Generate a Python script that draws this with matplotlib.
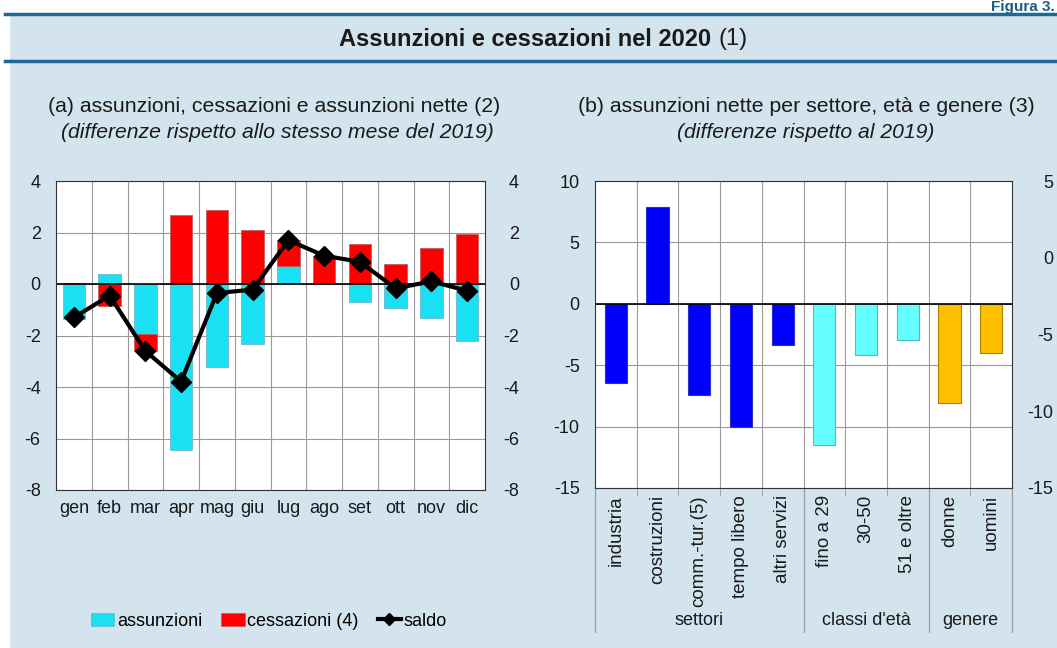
import matplotlib
matplotlib.use("Agg")
import matplotlib.pyplot as plt
import numpy as np
from matplotlib.patches import Rectangle
from matplotlib.lines import Line2D

plt.rcParams["font.family"] = ["Liberation Sans", "DejaVu Sans"]
plt.rcParams["axes.unicode_minus"] = False

# panel (a): monthly differences vs 2019
mesi = ["gen", "feb", "mar", "apr", "mag", "giu", "lug", "ago", "set", "ott", "nov", "dic"]
assunzioni = [-1.35, 0.39, -1.94, -6.43, -3.21, -2.32, 0.68, 0.05, -0.70, -0.93, -1.32, -2.21]
cessazioni = [0.05, -0.85, -0.67, 2.67, 2.86, 2.09, 1.04, 1.05, 1.56, 0.76, 1.39, 1.95]
saldo = [-1.30, -0.45, -2.60, -3.79, -0.35, -0.22, 1.70, 1.10, 0.86, -0.17, 0.10, -0.26]

# panel (b): net hires by sector, age, gender
categorie = ["industria", "costruzioni", "comm.-tur.(5)", "tempo libero", "altri servizi",
             "fino a 29", "30-50", "51 e oltre", "donne", "uomini"]
nette = [-6.48, 7.86, -7.40, -10.03, -3.33, -11.46, -4.20, -2.93, -8.05, -3.98]
gruppi = ["settori", "classi d'età", "genere"]
gruppi_n = [5, 3, 2]

BG = "#d3e4ee"
LINE = "#1f6894"
CYAN = "#1ae0f4"
RED = "#ff0000"
GRID = "#9a9a9a"
TXT = "#1a1a1a"
gruppi_col = ["#0000ff", "#66ffff", "#ffc000"]
gruppi_edge = ["#3030c0", "#40c0c8", "#b08000"]

W, H = 1057, 648
fig = plt.figure(figsize=(W / 100, H / 100), dpi=100)
fig.patch.set_facecolor(BG)


def fx(px):
    return px / W


def fy(py):
    return 1 - py / H


# white margins (top strip, thin left strip) and header lines
fig.add_artist(Rectangle((0, fy(14)), 1, 1, transform=fig.transFigure,
                         facecolor="white", edgecolor="none", zorder=-5))
fig.add_artist(Rectangle((0, 0), fx(10), 1, transform=fig.transFigure,
                         facecolor="white", edgecolor="none", zorder=-5))
for yy in (14, 61):
    fig.add_artist(Line2D([fx(5), 1], [fy(yy), fy(yy)], color=LINE, lw=2.5,
                          transform=fig.transFigure))
fig.text(fx(1055), fy(0), "Figura 3.", ha="right", va="top", fontsize=11,
         fontweight="bold", color="#1a5f80")
fig.text(fx(718), fy(39), "Assunzioni e cessazioni nel 2020 ", ha="right",
         va="center", fontsize=17, fontweight="bold", color=TXT)
fig.text(fx(718), fy(39), "(1)", ha="left", va="center", fontsize=17, color=TXT)

# subtitles
fig.text(fx(274), fy(106), "(a) assunzioni, cessazioni e assunzioni nette (2)",
         ha="center", va="center", fontsize=15.3, color=TXT)
fig.text(fx(277), fy(132), "(differenze rispetto allo stesso mese del 2019)",
         ha="center", va="center", fontsize=15.2, style="italic", color=TXT)
fig.text(fx(806), fy(106), "(b) assunzioni nette per settore, età e genere (3)",
         ha="center", va="center", fontsize=15.3, color=TXT)
fig.text(fx(806), fy(132), "(differenze rispetto al 2019)",
         ha="center", va="center", fontsize=15.2, style="italic", color=TXT)


def right_labels(axis, pad_pt):
    axis.tick_params(axis="y", length=0, labelsize=13, pad=pad_pt, colors=TXT)
    for t in axis.get_yticklabels():
        t.set_horizontalalignment("right")
    for s in axis.spines.values():
        s.set_visible(False)


# ---------------- panel (a)
ax = fig.add_axes([fx(56), fy(490), fx(429), (490 - 181) / H])
x = np.arange(len(mesi))
a = np.array(assunzioni)
c = np.array(cessazioni)
bottom_c = np.where(np.sign(a) == np.sign(c), a, 0)
ax.bar(x, a, width=0.63, color=CYAN, edgecolor="#70b8c8", linewidth=0.6, zorder=2)
ax.bar(x, c, width=0.63, bottom=bottom_c, color=RED, edgecolor="#c06060",
       linewidth=0.6, zorder=2)
ax.plot(x, saldo, color="black", lw=3, marker="D", markersize=10, zorder=3)
ax.axhline(0, color="black", lw=1.2, zorder=2.5)
ax.set_xlim(-0.5, len(mesi) - 0.5)
ax.set_ylim(-8, 4)
ax.set_yticks(np.arange(-8, 5, 2))
ax.set_xticks(x)
ax.set_xticklabels(mesi)
ax.set_xticks(np.arange(0.5, len(mesi) - 0.5), minor=True)
ax.grid(True, axis="x", which="minor", color=GRID, lw=0.8)
ax.grid(True, axis="y", which="major", color=GRID, lw=0.8)
ax.tick_params(which="both", length=0, labelsize=13, colors=TXT)
ax.tick_params(axis="y", pad=11)
ax.tick_params(axis="x", pad=7)
ax.set_axisbelow(True)
for s in ax.spines.values():
    s.set_color("#333333")
ax2 = ax.twinx()
ax2.set_ylim(-8, 4)
ax2.set_yticks(np.arange(-8, 5, 2))
right_labels(ax2, 24.5)

leg_h = [Rectangle((0, 0), 1, 1, facecolor=CYAN, edgecolor="#70b8c8", lw=0.6),
         Rectangle((0, 0), 1, 1, facecolor=RED, edgecolor="#c06060", lw=0.6),
         Line2D([], [], color="black", lw=3, marker="D", markersize=6)]
fig.legend(leg_h, ["assunzioni", "cessazioni (4)", "saldo"], loc="center",
           bbox_to_anchor=(fx(269), fy(621)), ncol=3, frameon=False, fontsize=13,
           handlelength=1.3, handletextpad=0.15, columnspacing=1.05,
           handleheight=0.7)

# ---------------- panel (b)
bx = fig.add_axes([fx(595), fy(488), fx(417), (488 - 181) / H])
xb = np.arange(len(categorie))
colori, bordi = [], []
for col, ed, n in zip(gruppi_col, gruppi_edge, gruppi_n):
    colori += [col] * n
    bordi += [ed] * n
bx.bar(xb, nette, width=0.53, color=colori, edgecolor=bordi, linewidth=0.8, zorder=2)
bx.axhline(0, color="black", lw=1.2, zorder=2.5)
bx.set_xlim(-0.5, len(categorie) - 0.5)
bx.set_ylim(-15, 10)
bx.set_yticks(np.arange(-15, 11, 5))
bx.set_xticks(xb)
bx.set_xticklabels(categorie, rotation=90, va="top", ha="center", fontsize=13.5)
bx.set_xticks(np.arange(0.5, len(categorie) - 0.5), minor=True)
bx.grid(True, axis="x", which="minor", color=GRID, lw=0.8)
bx.grid(True, axis="y", which="major", color=GRID, lw=0.8)
bx.tick_params(which="major", length=0, colors=TXT)
bx.tick_params(axis="y", which="major", pad=11, labelsize=13)
bx.tick_params(axis="x", which="major", pad=5)
bx.tick_params(which="minor", length=6, color=GRID, direction="out")
bx.set_axisbelow(True)
for s in bx.spines.values():
    s.set_color("#333333")
bx2 = bx.twinx()
bx2.set_ylim(-15, 5)
bx2.set_yticks(np.arange(-15, 6, 5))
right_labels(bx2, 29.5)

# group separators and labels under panel (b)
tr = bx.get_xaxis_transform()
bounds = np.concatenate([[0], np.cumsum(gruppi_n)]) - 0.5
for b in bounds:
    bx.plot([b, b], [0, -0.47], color=GRID, lw=0.9, transform=tr, clip_on=False)
for g, lo, hi in zip(gruppi, bounds[:-1], bounds[1:]):
    bx.text((lo + hi) / 2, -0.432, g, transform=tr, ha="center", va="center",
            fontsize=13, color=TXT)

fig.savefig("out.png", dpi=100, facecolor=fig.get_facecolor())
